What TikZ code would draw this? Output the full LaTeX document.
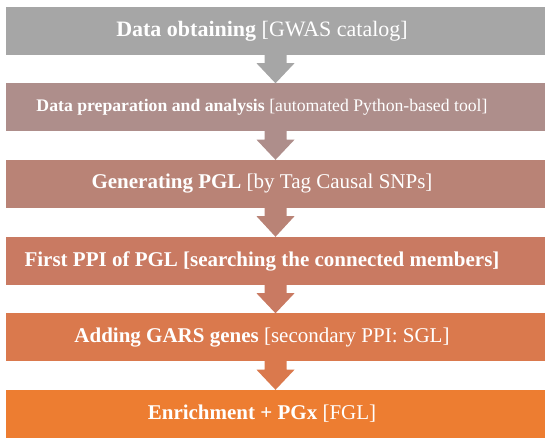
\documentclass[tikz,border=0pt]{standalone}
\usepackage{fontspec}
\setmainfont{Liberation Serif}
\usetikzlibrary{calc}
\definecolor{c1}{RGB}{166,166,166}
\definecolor{c2}{RGB}{174,142,139}
\definecolor{c3}{RGB}{185,131,118}
\definecolor{c4}{RGB}{201,122,98}
\definecolor{c5}{RGB}{218,121,77}
\definecolor{c6}{RGB}{237,125,49}
\newcommand\flowarrow[3]{%
  \fill[#3] ($(#1.south)+(-11,-1)$) -- ($(#1.south)+(-11,8)$) -- ($(#1.south)+(-19,8)$)
    -- (#2.north) -- ($(#1.south)+(19,8)$) -- ($(#1.south)+(11,8)$) -- ($(#1.south)+(11,-1)$) -- cycle;}
\newcommand\txtpad{\hspace*{27pt}}
\begin{document}
\begin{tikzpicture}[x=1pt,y=-1pt]
\tikzset{flowbox/.style={minimum width=539pt, minimum height=48pt, inner sep=0pt, text=white, draw=none}}
\useasboundingbox (0,0) rectangle (550,446);
\node[flowbox, fill=c1, font=\fontsize{22}{24}\selectfont] (b1) at (275.5,31) {\textbf{Data obtaining} [GWAS catalog]\txtpad};
\node[flowbox, fill=c2, font=\fontsize{17.7}{20}\selectfont] (b2) at (275.5,107.5) {\textbf{Data preparation and analysis} [automated Python-based tool]\txtpad};
\node[flowbox, fill=c3, font=\fontsize{21}{23}\selectfont] (b3) at (275.5,184) {\textbf{Generating PGL} [by Tag Causal SNPs]\txtpad};
\node[flowbox, fill=c4, font=\fontsize{21}{23}\selectfont] (b4) at (275.5,261) {\textbf{First PPI of PGL [searching the connected members]}\txtpad};
\node[flowbox, fill=c5, font=\fontsize{21}{23}\selectfont] (b5) at (275.5,337.5) {\textbf{Adding GARS genes} [secondary PPI: SGL]\txtpad};
\node[flowbox, fill=c6, font=\fontsize{21}{23}\selectfont] (b6) at (275.5,414) {\textbf{Enrichment + PGx} [FGL]\txtpad};
\flowarrow{b1}{b2}{c1}
\flowarrow{b2}{b3}{c2}
\flowarrow{b3}{b4}{c3}
\flowarrow{b4}{b5}{c4}
\flowarrow{b5}{b6}{c5}
\end{tikzpicture}
\end{document}
